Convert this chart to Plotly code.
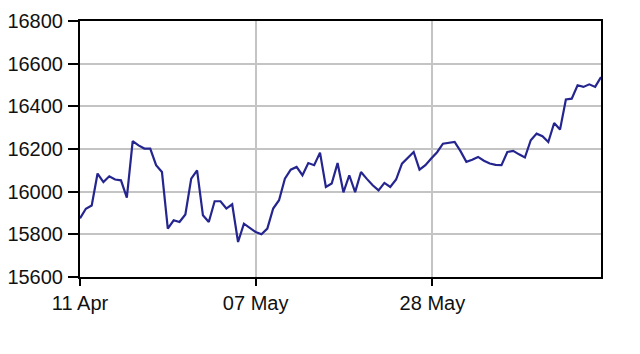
import plotly.graph_objects as go

# Daily index values, one per session
values = [15875, 15920, 15935, 16085, 16045, 16072, 16057, 16053, 15972, 16237,
          16217, 16202, 16202, 16124, 16092, 15827, 15866, 15858, 15893, 16061,
          16100, 15889, 15858, 15955, 15955, 15921, 15941, 15764, 15850, 15830,
          15811, 15800, 15827, 15921, 15960, 16061, 16103, 16116, 16077, 16134,
          16124, 16183, 16022, 16038, 16134, 15997, 16077, 15998, 16092, 16060,
          16030, 16006, 16041, 16022, 16057, 16131, 16160, 16186, 16103, 16124,
          16155, 16185, 16225, 16230, 16233, 16190, 16140, 16150, 16163, 16145,
          16132, 16126, 16124, 16186, 16191, 16175, 16160, 16241, 16272, 16260,
          16233, 16322, 16291, 16432, 16436, 16499, 16491, 16503, 16491, 16537]
sessions = list(range(len(values)))

x_tick_pos = [0, 30, 60.2]
x_tick_labels = ["11 Apr", "07 May", "28 May"]
y_ticks = [15600, 15800, 16000, 16200, 16400, 16600, 16800]

fig = go.Figure()
fig.add_trace(go.Scatter(x=sessions, y=values, mode="lines",
                         line=dict(color="#25258f", width=2.2), hoverinfo="skip"))

fig.update_layout(
    width=640, height=354,
    margin=dict(l=80, r=39, t=21, b=77),
    paper_bgcolor="white", plot_bgcolor="white",
    showlegend=False,
    font=dict(family="Liberation Sans, Arial", size=20, color="#111111"),
)
fig.update_xaxes(
    range=[0, len(values) - 1], tickvals=x_tick_pos, ticktext=x_tick_labels,
    showgrid=True, gridcolor="#c4c4c4", gridwidth=2,
    showline=True, linecolor="black", linewidth=2, mirror=True,
    ticks="outside", ticklen=7, tickwidth=2, tickcolor="black",
    zeroline=False, automargin=False,
)
fig.update_yaxes(
    range=[15600, 16800], tickvals=y_ticks, tickformat="d",
    showgrid=True, gridcolor="#c4c4c4", gridwidth=2,
    showline=True, linecolor="black", linewidth=2, mirror=True,
    ticks="outside", ticklen=10, tickwidth=2, tickcolor="black",
    zeroline=False, automargin=False, ticklabelstandoff=1,
)

fig.write_html("out.html")
